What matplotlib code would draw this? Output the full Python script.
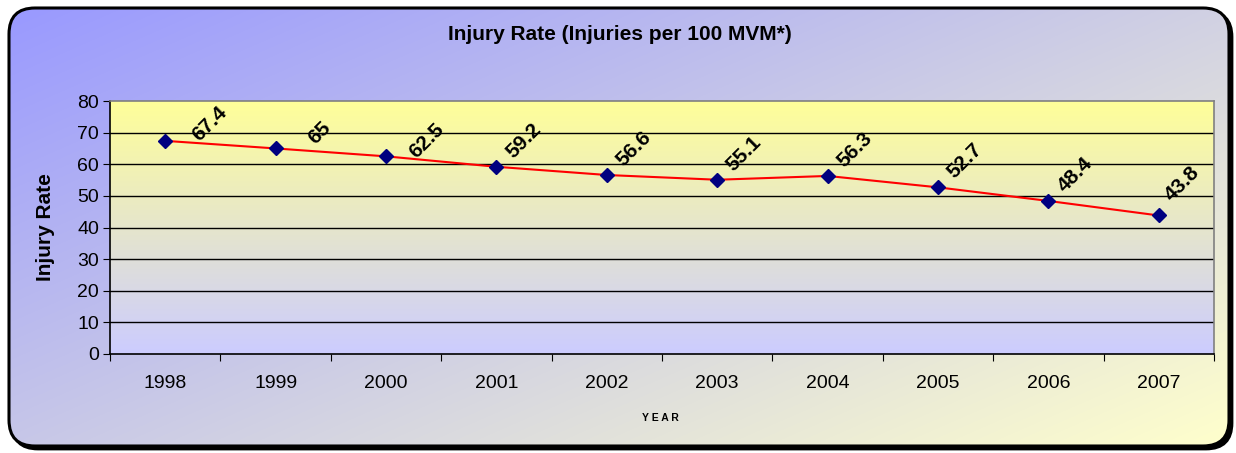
import matplotlib
matplotlib.use("Agg")
import matplotlib.pyplot as plt
from matplotlib.patches import FancyBboxPatch
import numpy as np

years = ["1998", "1999", "2000", "2001", "2002", "2003", "2004", "2005", "2006", "2007"]
rates = [67.4, 65, 62.5, 59.2, 56.6, 55.1, 56.3, 52.7, 48.4, 43.8]
rate_labels = ["67.4", "65", "62.5", "59.2", "56.6", "55.1", "56.3", "52.7", "48.4", "43.8"]
y_ticks = [0, 10, 20, 30, 40, 50, 60, 70, 80]

plt.rcParams["font.family"] = ["Liberation Sans", "DejaVu Sans"]

W, H = 1236, 453
fig = plt.figure(figsize=(W / 100, H / 100), dpi=100)

# background with rounded frame
bg = fig.add_axes([0, 0, 1, 1])
bg.set_xlim(0, W)
bg.set_ylim(H, 0)
bg.axis("off")

x0, y0, x1, y1 = 9, 8, 1229, 446
shadow = FancyBboxPatch((x0 + 3, y0 + 3), x1 - x0, y1 - y0,
                        boxstyle="round,pad=0,rounding_size=26",
                        fc="black", ec="black", lw=2)
bg.add_patch(shadow)
frame = FancyBboxPatch((x0, y0), x1 - x0, y1 - y0,
                       boxstyle="round,pad=0,rounding_size=26",
                       fc="none", ec="black", lw=2.2, zorder=3)
bg.add_patch(frame)

gx, gy = np.meshgrid(np.linspace(0, 1, 300), np.linspace(0, 1, 120))
t = np.clip((gx * 0.55 + gy * 0.45), 0, 1)
c0 = np.array([0x99, 0x99, 0xFF]) / 255
c1 = np.array([0xFF, 0xFF, 0xCC]) / 255
grad = c0[None, None, :] * (1 - t[..., None]) + c1[None, None, :] * t[..., None]
im = bg.imshow(grad, extent=(x0, x1, y1, y0), aspect="auto", zorder=1,
               interpolation="bilinear")
clip = FancyBboxPatch((x0, y0), x1 - x0, y1 - y0,
                      boxstyle="round,pad=0,rounding_size=26",
                      fc="none", ec="none", transform=bg.transData)
bg.add_patch(clip)
im.set_clip_path(clip)

# plot area
ax = fig.add_axes([110 / W, 1 - 354 / H, (1214 - 110) / W, (354 - 101) / H])
xs = np.arange(len(years))
ax.set_xlim(-0.5, len(years) - 0.5)
ax.set_ylim(0, 80)

py = np.linspace(0, 1, 200)[:, None]
top = np.array([0xFF, 0xFF, 0x99]) / 255
bot = np.array([0xCC, 0xCC, 0xFF]) / 255
pgrad = top[None, None, :] * (1 - py[..., None]) + bot[None, None, :] * py[..., None]
ax.imshow(np.repeat(pgrad, 2, axis=1), extent=(-0.5, len(years) - 0.5, 0, 80),
          aspect="auto", zorder=0)

for v in y_ticks[1:-1]:
    ax.axhline(v, color="black", lw=1, zorder=1)

ax.plot(xs, rates, color="red", lw=1.5, zorder=2)
ax.plot(xs, rates, ls="none", marker="D", ms=7, color="#000080", zorder=3)

# label centre offsets (points) - first three were nudged further right
label_offsets = [(32, 12.5), (32, 11), (29.5, 11.5)] + [(19.5, 19)] * 6 + [(17, 23)]
for x, v, lab, off in zip(xs, rates, rate_labels, label_offsets):
    ax.annotate(lab, (x, v), xytext=off, textcoords="offset points",
                rotation=45, rotation_mode="anchor", ha="center", va="center",
                fontsize=15, fontweight="bold", zorder=4)

ax.set_yticks(y_ticks)
ax.set_xticks(np.arange(-0.5, len(years), 1))
ax.set_xticklabels([])
ax.set_xticks(xs, minor=True)
ax.set_xticklabels(years, minor=True)
ax.tick_params(axis="x", which="minor", length=0, pad=15, labelsize=14)
ax.tick_params(axis="x", which="major", length=5, direction="out", color="black")
ax.tick_params(axis="y", length=5, direction="out", labelsize=14, pad=3)

ax.spines["left"].set_color("black")
ax.spines["bottom"].set_color("black")
ax.spines["top"].set_color("#808080")
ax.spines["right"].set_color("#808080")
for s in ax.spines.values():
    s.set_linewidth(1.2)

ax.set_ylabel("Injury Rate", fontsize=15, fontweight="bold", labelpad=16)
fig.text(620 / W, 1 - 35 / H, "Injury Rate (Injuries per 100 MVM*)",
         ha="center", va="center", fontsize=15, fontweight="bold")
fig.text(660 / W, 1 - 418 / H, "Y E A R", ha="center", va="center",
         fontsize=7.5, fontweight="bold")

fig.savefig("out.png", dpi=100)
